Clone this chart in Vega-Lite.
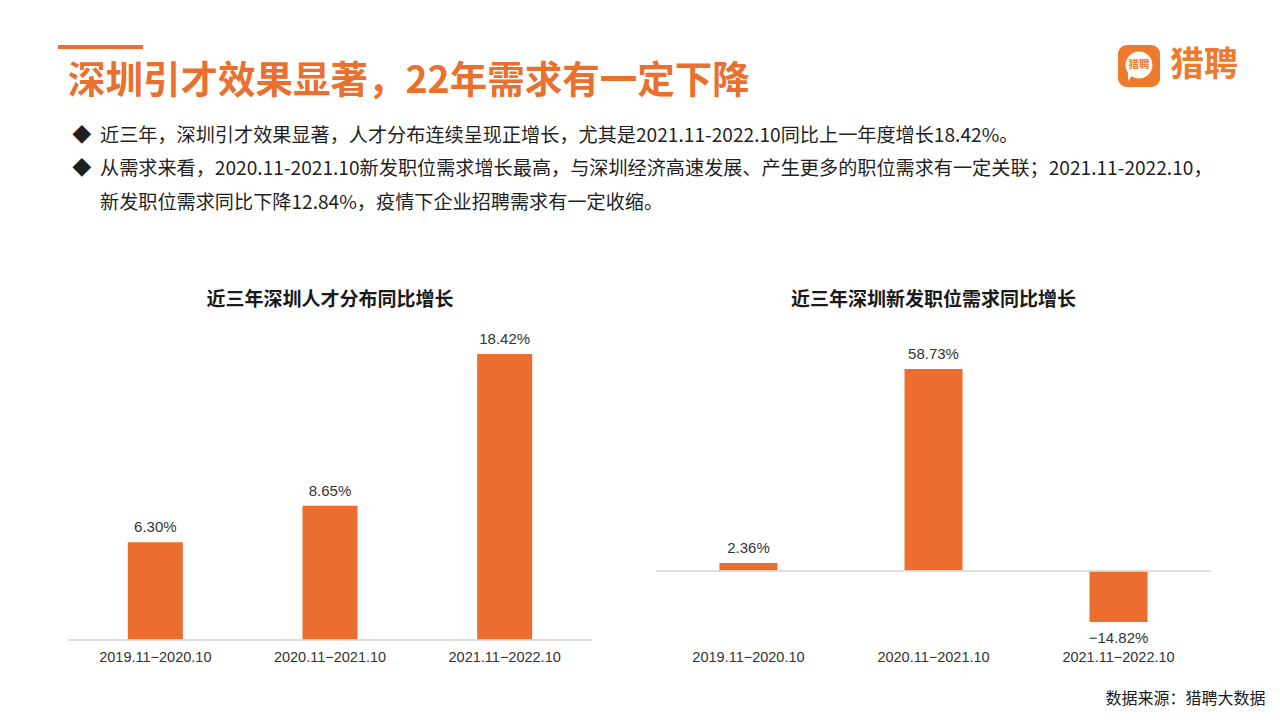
{
  "$schema": "https://vega.github.io/schema/vega-lite/v6.json",
  "padding": {"left": 58, "top": 45, "right": 0, "bottom": 0},
  "background": "white",
  "config": {
    "view": {"stroke": null},
    "font": "Noto Sans CJK SC"
  },
  "spacing": 78,
  "vconcat": [
    {
      "bounds": "flush",
      "spacing": 975,
      "hconcat": [
        {
          "width": 85,
          "height": 4,
          "view": {"fill": "#EC6E2E", "stroke": null},
          "data": {"values": [{"k": 1}]},
          "mark": {"type": "rect", "opacity": 0},
          "encoding": {},
          "title": {
            "text": "深圳引才效果显著，22年需求有一定下降",
            "subtitle": [
              "\u200b\u00a0◆\u00a0\u00a0近三年，深圳引才效果显著，人才分布连续呈现正增长，尤其是2021.11-2022.10同比上一年度增长18.42%。",
              "\u200b\u00a0◆\u00a0\u00a0从需求来看，2020.11-2021.10新发职位需求增长最高，与深圳经济高速发展、产生更多的职位需求有一定关联；2021.11-2022.10，",
              "\u200b\u3000\u00a0\u00a0\u00a0新发职位需求同比下降12.84%，疫情下企业招聘需求有一定收缩。"
            ],
            "orient": "bottom",
            "anchor": "start",
            "frame": "group",
            "dx": 10,
            "offset": 14,
            "font": "Noto Sans CJK SC",
            "fontSize": 37.5,
            "fontWeight": "bold",
            "color": "#E9702F",
            "subtitleFont": "Noto Sans CJK SC",
            "subtitleFontSize": 19.15,
            "subtitleColor": "#1f1f1f",
            "subtitleLineHeight": 33.5,
            "subtitlePadding": 26
          }
        },
        {
          "bounds": "flush",
          "spacing": 8,
          "hconcat": [
            {
              "width": 42,
              "height": 42,
              "view": {"fill": "#EF7A2B", "stroke": null, "cornerRadius": 9},
              "data": {"values": [{"brand": "猎聘"}]},
              "layer": [
                {
                  "mark": {"type": "point", "shape": "circle", "filled": true, "color": "white", "opacity": 1, "size": 720, "yOffset": -1},
                  "encoding": {}
                },
                {
                  "mark": {"type": "point", "shape": "M -1 -1 L 0.4 -1 L -0.9 1 Z", "filled": true, "color": "white", "opacity": 1, "size": 70, "xOffset": -7, "yOffset": 11},
                  "encoding": {}
                },
                {
                  "mark": {"type": "text", "fontSize": 10.5, "fontWeight": "bold", "color": "#EF7A2B", "align": "center", "baseline": "middle", "yOffset": -1},
                  "encoding": {"text": {"field": "brand"}}
                }
              ]
            },
            {
              "width": 72,
              "height": 42,
              "data": {"values": [{"brand": "猎聘"}]},
              "mark": {"type": "text", "fontSize": 34, "fontWeight": "bold", "color": "#EF7A2B", "align": "center", "baseline": "middle"},
              "encoding": {"text": {"field": "brand"}}
            }
          ]
        }
      ]
    },
    {
      "spacing": 8,
      "hconcat": [
        {
          "width": 1,
          "height": 1,
          "data": {"values": [{"k": 1}]},
          "mark": {"type": "rect", "opacity": 0},
          "encoding": {}
        },
        {
          "spacing": 62,
          "title": {
            "text": "数据来源：猎聘大数据",
            "orient": "bottom",
            "anchor": "end",
            "dx": 54,
            "offset": 27,
            "font": "Noto Sans CJK SC",
            "fontSize": 16,
            "fontWeight": "normal",
            "color": "#1a1a1a"
          },
          "hconcat": [
            {
              "width": 524,
              "height": 314,
              "title": {"text": "近三年深圳人才分布同比增长", "font": "Noto Sans CJK SC", "fontSize": 19, "fontWeight": "bold", "color": "#1a1a1a", "offset": 16},
              "data": {"values": [
                {"period": "2019.11−2020.10", "value": 0.063},
                {"period": "2020.11−2021.10", "value": 0.0865},
                {"period": "2021.11−2022.10", "value": 0.1842}
              ]},
              "layer": [
                {
                  "mark": {"type": "bar", "color": "#EC6E2E"},
                  "encoding": {
                    "x": {"field": "period", "type": "nominal", "sort": null,
                      "scale": {"paddingInner": 0.685, "paddingOuter": 0.3425},
                      "axis": {"title": null, "labelAngle": 0, "ticks": false, "tickSize": 0, "domain": false, "labelPadding": 10, "labelFontSize": 14.5, "labelColor": "#333333", "labelFont": "Liberation Sans"}},
                    "y": {"field": "value", "type": "quantitative",
                      "scale": {"domain": [0, 0.2022], "nice": false},
                      "axis": null}
                  }
                },
                {
                  "mark": {"type": "rule", "color": "#d9d9d9", "strokeWidth": 1.2},
                  "encoding": {"y": {"datum": 0, "type": "quantitative"}}
                },
                {
                  "mark": {"type": "text", "baseline": "alphabetic", "dy": -10, "fontSize": 15, "font": "Liberation Sans", "color": "#333333"},
                  "encoding": {
                    "x": {"field": "period", "type": "nominal", "sort": null},
                    "y": {"field": "value", "type": "quantitative"},
                    "text": {"field": "value", "type": "quantitative", "format": ".2%"}
                  }
                }
              ]
            },
            {
              "width": 555,
              "height": 314,
              "title": {"text": "近三年深圳新发职位需求同比增长", "font": "Noto Sans CJK SC", "fontSize": 19, "fontWeight": "bold", "color": "#1a1a1a", "offset": 16},
              "data": {"values": [
                {"period": "2019.11−2020.10", "value": 0.0236},
                {"period": "2020.11−2021.10", "value": 0.5873},
                {"period": "2021.11−2022.10", "value": -0.1482}
              ]},
              "layer": [
                {
                  "mark": {"type": "bar", "color": "#EC6E2E"},
                  "encoding": {
                    "x": {"field": "period", "type": "nominal", "sort": null,
                      "scale": {"paddingInner": 0.6865, "paddingOuter": 0.343},
                      "axis": {"title": null, "labelAngle": 0, "ticks": false, "tickSize": 0, "domain": false, "labelPadding": 10, "labelFontSize": 14.5, "labelColor": "#333333", "labelFont": "Liberation Sans"}},
                    "y": {"field": "value", "type": "quantitative",
                      "scale": {"domain": [-0.2006, 0.7123], "nice": false},
                      "axis": null}
                  }
                },
                {
                  "mark": {"type": "rule", "color": "#d9d9d9", "strokeWidth": 1.2},
                  "encoding": {"y": {"datum": 0, "type": "quantitative"}}
                },
                {
                  "transform": [{"filter": "datum.value >= 0"}],
                  "mark": {"type": "text", "baseline": "alphabetic", "dy": -10, "fontSize": 15, "font": "Liberation Sans", "color": "#333333"},
                  "encoding": {
                    "x": {"field": "period", "type": "nominal", "sort": null},
                    "y": {"field": "value", "type": "quantitative"},
                    "text": {"field": "value", "type": "quantitative", "format": ".2%"}
                  }
                },
                {
                  "transform": [{"filter": "datum.value < 0"}],
                  "mark": {"type": "text", "baseline": "alphabetic", "dy": 21, "fontSize": 15, "font": "Liberation Sans", "color": "#333333"},
                  "encoding": {
                    "x": {"field": "period", "type": "nominal", "sort": null},
                    "y": {"field": "value", "type": "quantitative"},
                    "text": {"field": "value", "type": "quantitative", "format": ".2%"}
                  }
                }
              ]
            }
          ]
        }
      ]
    }
  ]
}
